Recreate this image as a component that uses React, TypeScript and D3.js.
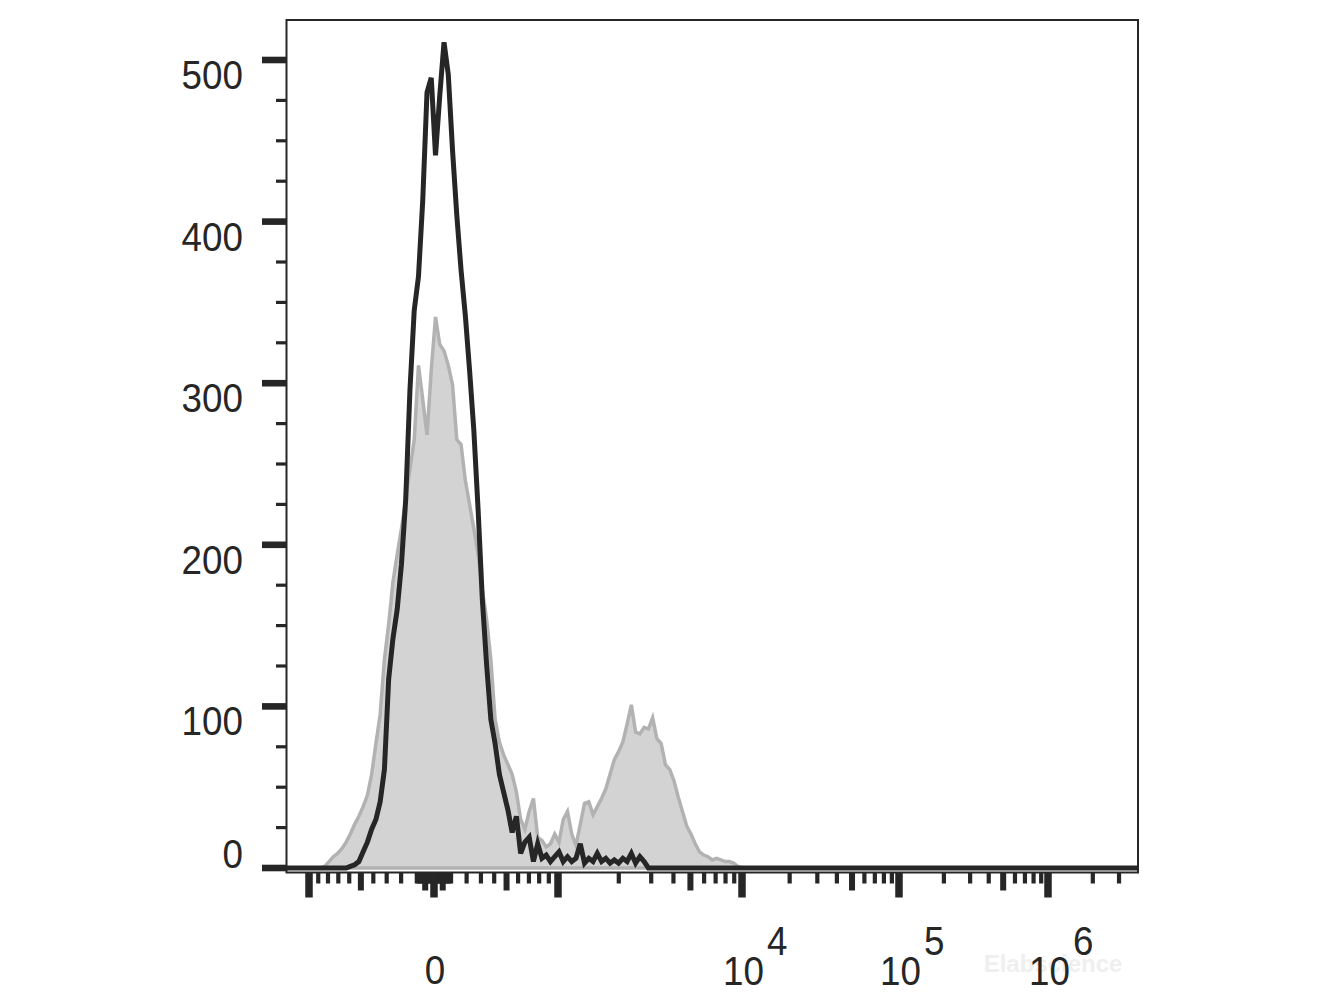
import React from "react";
import * as d3 from "d3";

// Histogram counts per display channel (channel domain 0..200 across the plot)
const greyStart = 9;
const greyCounts = [
  1, 4, 7, 9, 12, 16, 21, 27, 32, 38, 45, 58, 77, 95, 129, 151, 177, 194, 210, 228,
  247, 265, 311, 290, 268, 308, 341, 324, 320, 311, 299, 265, 262, 240, 225, 210, 194, 172, 154, 129,
  92, 78, 70, 64, 58, 47, 30, 24, 35, 43, 19, 17, 13, 15, 21, 16, 30, 35, 21, 14,
  27, 40, 41, 33, 38, 43, 49, 58, 67, 72, 78, 89, 101, 84, 83, 87, 86, 93, 80, 77,
  64, 61, 54, 44, 35, 26, 21, 15, 10, 8, 7, 5, 6, 5, 4, 4, 3, 1,
];
const blackStart = 15;
const blackCounts = [
  1, 2, 4, 10, 16, 24, 30, 41, 61, 117, 142, 160, 188, 228, 296, 345, 366, 413, 480, 489,
  441, 478, 511, 491, 444, 404, 370, 342, 308, 271, 222, 166, 126, 92, 77, 58, 47, 36, 22, 32,
  9, 16, 19, 4, 15, 6, 8, 4, 7, 10, 4, 7, 4, 6, 15, 3, 6, 4, 9, 4,
  6, 3, 5, 3, 6, 4, 9, 3, 7, 4, 0,
];
const channelCount = 200;

const yMajorTicks = [0, 100, 200, 300, 400, 500];
const yMajorLabels = ["0", "100", "200", "300", "400", "500"];
const yMinorTicks = [25, 50, 75, 125, 150, 175, 225, 250, 275, 325, 350, 375, 425, 450, 475];

const xMajorTicks = [-1000, 0, 1000, 1e4, 1e5, 1e6];
const xMediumTicks = [-500, -50, 50, 500, 5000, 5e4, 5e5];
const xInnerDecades = [10, 100];
const xInnerMultipliers = [1, 2, 3, 4, 6, 7, 8, 9];
const xOuterDecades = [1000, 1e4, 1e5];
const xOuterMultipliers = [2, 3, 4, 6, 7, 8, 9];
const xTopMinor = [2e6, 3e6];
const xLabelValues = [0, 1e4, 1e5, 1e6];
const xLabelExponents = ["", "4", "5", "6"];

const FONT = "Arial, 'Liberation Sans', Helvetica, sans-serif";
const INK = "#262626";

// biexponential-like display transform
function T(v: number): number {
  const a = Math.abs(v);
  if (a <= 1000) return Math.sign(v) * Math.log10(1 + a / 1000) / Math.log10(2);
  return Math.sign(v) * (1 + Math.log10((a - 250) / 750));
}

export default function App() {
  const left = 286.5, right = 1138, top = 20, bottom = 872.5;
  const yScale = d3.scaleLinear().domain([0, 500]).range([868, 60]);
  const xChan = d3.scaleLinear().domain([0, channelCount]).range([left, right]);
  const xAxis = d3
    .scaleLinear()
    .domain([T(-1000), T(0), T(1000), T(1e4), T(1e5), T(1e6)])
    .range([309, 434, 558, 742, 899, 1048]);
  const xv = (v: number) => xAxis(T(v));

  const full = (start: number, arr: number[]) => {
    const out: number[] = new Array(channelCount + 1).fill(0);
    arr.forEach((c, i) => (out[start + i] = c));
    return out.map((c, i) => [i, c] as [number, number]);
  };
  const grey = full(greyStart, greyCounts);
  const black = full(blackStart, blackCounts);

  const area = d3
    .area<[number, number]>()
    .x((d) => xChan(d[0]))
    .y0(yScale(0))
    .y1((d) => yScale(d[1]));
  const line = d3
    .line<[number, number]>()
    .x((d) => xChan(d[0]))
    .y((d) => yScale(d[1]));

  const minorX: number[] = [];
  xInnerDecades.forEach((d) =>
    xInnerMultipliers.forEach((m) => {
      minorX.push(m * d);
      minorX.push(-m * d);
    })
  );
  xOuterDecades.forEach((d) => xOuterMultipliers.forEach((m) => minorX.push(m * d)));
  xTopMinor.forEach((v) => minorX.push(v));

  const tickRect = (v: number, w: number, len: number, key: string) => (
    <rect key={key} x={xv(v) - w / 2} y={bottom} width={w} height={len} fill={INK} />
  );

  return (
    <svg
      width={1333}
      height={1000}
      style={{ position: "absolute", left: 0, top: 0, background: "#fff" }}
      fontFamily={FONT}
    >
      <defs>
        <clipPath id="plotclip">
          <rect x={left} y={top} width={right - left} height={bottom - top - 1.2} />
        </clipPath>
      </defs>
      <rect x={0} y={0} width={1333} height={1000} fill="#fff" />

      <g clipPath="url(#plotclip)">
        <path d={area(grey) || ""} fill="#d3d3d3" stroke="#b2b2b2" strokeWidth={3.5} strokeLinejoin="miter" />
        <path d={line(black) || ""} fill="none" stroke={INK} strokeWidth={5} strokeLinejoin="miter" />
      </g>

      {/* frame */}
      <rect x={left} y={top} width={right - left} height={bottom - top} fill="none" stroke={INK} strokeWidth={2} />

      {/* y ticks */}
      {yMajorTicks.map((v) => (
        <rect key={"ym" + v} x={262} y={yScale(v) - 3.3} width={left - 262} height={6.6} fill={INK} />
      ))}
      {yMinorTicks.map((v) => (
        <rect key={"yn" + v} x={276} y={yScale(v) - 1.6} width={left - 276} height={3.2} fill={INK} />
      ))}
      {yMajorTicks.map((v, i) => (
        <text
          key={"yl" + v}
          transform={`translate(243,${yScale(v) + (v === 0 ? 0 : 29)}) scale(0.92,1)`}
          textAnchor="end"
          fontSize={40}
          fill={INK}
        >
          {yMajorLabels[i]}
        </text>
      ))}

      {/* x ticks */}
      {minorX.map((v, i) => tickRect(v, 4.2, 11, "xn" + i))}
      {xMediumTicks.map((v, i) => tickRect(v, 6, 18, "xd" + i))}
      {xMajorTicks.map((v, i) => tickRect(v, 7.5, 25, "xj" + i))}

      {/* faint watermark */}
      <text x={1053} y={972} textAnchor="middle" fontSize={24} fontWeight="bold" fill="#efefef">
        Elabscience
      </text>

      {/* x labels */}
      {xLabelValues.map((v, i) =>
        xLabelExponents[i] === "" ? (
          <text
            key={"xl" + i}
            transform={`translate(${xv(v) + 1},984) scale(0.92,1)`}
            textAnchor="middle"
            fontSize={40}
            fill={INK}
          >
            0
          </text>
        ) : (
          <g key={"xl" + i}>
            <text
              transform={`translate(${xv(v) + 1.5},985) scale(0.92,1)`}
              textAnchor="middle"
              fontSize={40}
              fill={INK}
            >
              10
            </text>
            <text
              transform={`translate(${xv(v) + 25},955) scale(0.92,1)`}
              textAnchor="start"
              fontSize={40}
              fill={INK}
            >
              {xLabelExponents[i]}
            </text>
          </g>
        )
      )}
    </svg>
  );
}
